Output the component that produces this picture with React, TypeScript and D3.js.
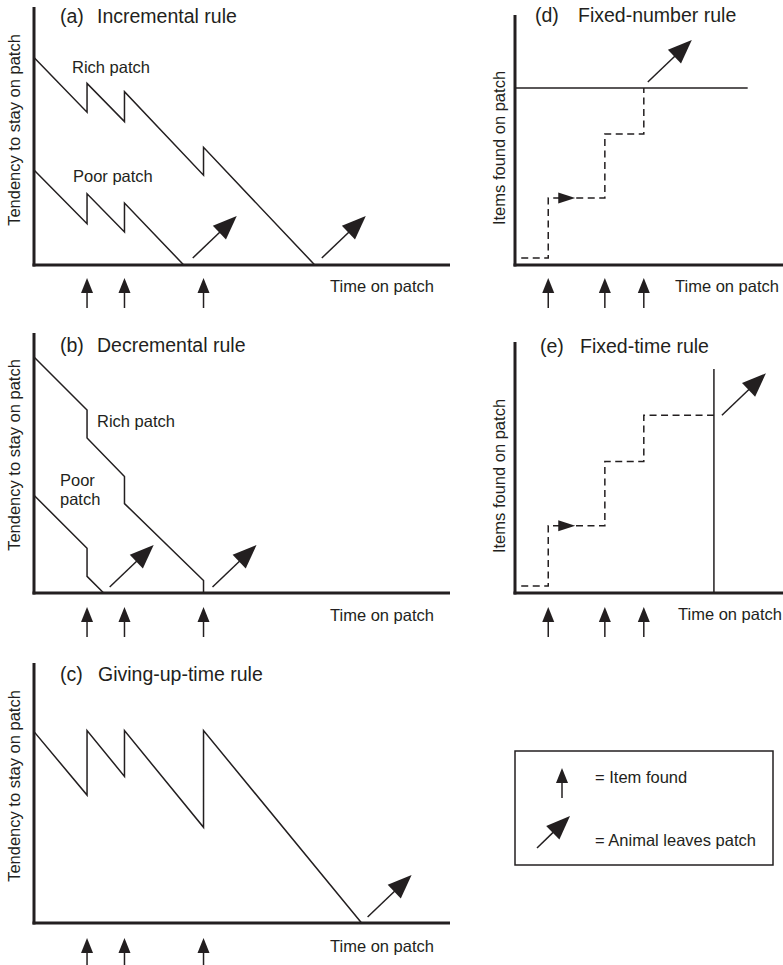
import * as d3 from "d3"

// ---- data ----
// panels a–c: time on patch (x) vs tendency to stay on patch (y)
const itemTimesABC = [5.1, 8.7, 16.3]
const richIncremental: [number, number][] = [[0, 20.1], [5.1, 14.8], [5.1, 17.6], [8.7, 13.9], [8.7, 16.8], [16.3, 8.7], [16.3, 11.4], [27.0, 0]]
const poorIncremental: [number, number][] = [[0, 9.2], [5.1, 4.0], [5.1, 6.9], [8.7, 3.2], [8.7, 6.0], [14.4, 0]]
const richDecremental: [number, number][] = [[0, 22.7], [5.1, 17.6], [5.1, 14.9], [8.7, 11.2], [8.7, 8.6], [16.3, 1.2], [16.3, 0]]
const poorDecremental: [number, number][] = [[0, 9.4], [5.1, 4.3], [5.1, 1.6], [6.7, 0]]
const givingUpTime: [number, number][] = [[0, 18.4], [5.1, 12.3], [5.1, 18.5], [8.7, 14.1], [8.7, 18.5], [16.3, 9.2], [16.3, 18.5], [31.5, 0]]

// panels d–e: time on patch (x) vs items found (y)
const itemTimesDE = [3.2, 8.65, 12.4]
const stepLevels = [0.7, 6.7, 13.1, 17.7]
const stepStart = 0.6
const stepArrowAt = 5.8
const fixedNumber = 17.7
const fixedNumberEnd = 22.4
const fixedTime = 19.15
const fixedTimeTop = 22.3

const ink = "#231f20"
const font = "'Liberation Sans', Arial, Helvetica, sans-serif"

const xLeft = d3.scaleLinear().domain([0, 40]).range([34, 450])
const xRight = d3.scaleLinear().domain([0, 25.8]).range([515, 783])
const yA = d3.scaleLinear().domain([0, 25]).range([265, 7])
const yB = d3.scaleLinear().domain([0, 25]).range([593, 333])
const yC = d3.scaleLinear().domain([0, 25]).range([923, 663])
const yD = d3.scaleLinear().domain([0, 25]).range([265, 15])
const yE = d3.scaleLinear().domain([0, 25]).range([593, 342])

function Axes({ x, y }: any) {
    const x0 = x.range()[0], x1 = x.range()[1]
    const y0 = y.range()[0], y1 = y.range()[1]
    return (
        <g stroke={ink} strokeWidth={3}>
            <line x1={x0} y1={y1} x2={x0} y2={y0 + 1.5} />
            <line x1={x0 - 1.5} y1={y0} x2={x1} y2={y0} />
        </g>
    )
}

function ItemArrow({ x, y }: { x: number, y: number }) {
    // y = tip position
    return (
        <g>
            <line x1={x} y1={y + 12} x2={x} y2={y + 30} stroke={ink} strokeWidth={1.5} />
            <path d={`M${x},${y}L${x + 6},${y + 15}L${x - 6},${y + 15}Z`} fill={ink} />
        </g>
    )
}

function LeaveArrow({ x, y, dx = 44, dy = -42 }: { x: number, y: number, dx?: number, dy?: number }) {
    const len = Math.hypot(dx, dy)
    const ux = dx / len, uy = dy / len
    const tx = x + dx, ty = y + dy
    const bx = tx - ux * 24, by = ty - uy * 24
    const nx = -uy * 9.5, ny = ux * 9.5
    return (
        <g>
            <line x1={x} y1={y} x2={bx + ux * 3} y2={by + uy * 3} stroke={ink} strokeWidth={1.5} />
            <path d={`M${tx},${ty}L${bx + nx},${by + ny}L${bx - nx},${by - ny}Z`} fill={ink} />
        </g>
    )
}

function StepArrow({ x, y }: { x: number, y: number }) {
    return <path d={`M${x},${y}L${x - 17},${y - 5.5}L${x - 17},${y + 5.5}Z`} fill={ink} />
}

function Title({ tag, text, x, tx, y }: any) {
    return (
        <g fontSize={19.5} fill={ink}>
            <text x={x} y={y}>{tag}</text>
            <text x={tx} y={y}>{text}</text>
        </g>
    )
}

function YLabel({ text, x, y }: any) {
    return (
        <text transform={`translate(${x},${y}) rotate(-90)`} textAnchor="middle" fontSize={16.5} fill={ink}>
            {text}
        </text>
    )
}

function stepPoints(times: number[], levels: number[], start: number, end?: number): [number, number][] {
    const pts: [number, number][] = [[start, levels[0]]]
    times.forEach((t, i) => {
        pts.push([t, levels[i]])
        pts.push([t, levels[i + 1]])
    })
    if (end !== undefined) pts.push([end, levels[levels.length - 1]])
    return pts
}

export default function App() {
    const lineOf = (y: any) => d3.line<[number, number]>().x(d => xLeft(d[0])).y(d => y(d[1]))
    const lineRight = (y: any) => d3.line<[number, number]>().x(d => xRight(d[0])).y(d => y(d[1]))
    const lastX = (pts: [number, number][]) => xLeft(pts[pts.length - 1][0])

    const stepD = stepPoints(itemTimesDE, stepLevels, stepStart)
    const stepE = stepPoints(itemTimesDE, stepLevels, stepStart, fixedTime)

    const curve = { fill: "none", stroke: ink, strokeWidth: 1.5, strokeLinejoin: "miter" as const }
    const dashed = { fill: "none", stroke: ink, strokeWidth: 1.5, strokeDasharray: "7,4.5" }

    return (
        <div style={{ position: "absolute", left: 0, top: 0 }}>
            <svg width={783} height={965} viewBox="0 0 783 965" style={{ display: "block", fontFamily: font }}>
                <rect width={783} height={965} fill="#fff" />

                {/* (a) Incremental rule */}
                <Axes x={xLeft} y={yA} />
                <Title tag="(a)" text="Incremental rule" x={60} tx={97} y={22.7} />
                <YLabel text="Tendency to stay on patch" x={20} y={130} />
                <path d={lineOf(yA)(richIncremental)!} {...curve} />
                <path d={lineOf(yA)(poorIncremental)!} {...curve} />
                <text x={72} y={72.7} fontSize={16.5} fill={ink}>Rich patch</text>
                <text x={73} y={181.5} fontSize={16.5} fill={ink}>Poor patch</text>
                <LeaveArrow x={lastX(poorIncremental) + 9} y={yA(0) - 7} />
                <LeaveArrow x={lastX(richIncremental) + 7} y={yA(0) - 7} />
                {itemTimesABC.map((t, i) => <ItemArrow key={i} x={xLeft(t)} y={yA(0) + 13} />)}
                <text x={330} y={yA(0) + 27} fontSize={16.5} fill={ink}>Time on patch</text>

                {/* (b) Decremental rule */}
                <Axes x={xLeft} y={yB} />
                <Title tag="(b)" text="Decremental rule" x={60} tx={97} y={351.7} />
                <YLabel text="Tendency to stay on patch" x={20} y={455} />
                <path d={lineOf(yB)(richDecremental)!} {...curve} />
                <path d={lineOf(yB)(poorDecremental)!} {...curve} />
                <text x={97} y={427} fontSize={16.5} fill={ink}>Rich patch</text>
                <text x={60} y={485.5} fontSize={16.5} fill={ink}>Poor</text>
                <text x={60} y={505} fontSize={16.5} fill={ink}>patch</text>
                <LeaveArrow x={lastX(poorDecremental) + 6} y={yB(0) - 6} />
                <LeaveArrow x={lastX(richDecremental) + 9} y={yB(0) - 6} />
                {itemTimesABC.map((t, i) => <ItemArrow key={i} x={xLeft(t)} y={yB(0) + 14} />)}
                <text x={330} y={yB(0) + 28} fontSize={16.5} fill={ink}>Time on patch</text>

                {/* (c) Giving-up-time rule */}
                <Axes x={xLeft} y={yC} />
                <Title tag="(c)" text="Giving-up-time rule" x={60} tx={98} y={681} />
                <YLabel text="Tendency to stay on patch" x={20} y={786} />
                <path d={lineOf(yC)(givingUpTime)!} {...curve} />
                <LeaveArrow x={lastX(givingUpTime) + 6} y={yC(0) - 6} />
                {itemTimesABC.map((t, i) => <ItemArrow key={i} x={xLeft(t)} y={yC(0) + 15} />)}
                <text x={330} y={yC(0) + 29} fontSize={16.5} fill={ink}>Time on patch</text>

                {/* (d) Fixed-number rule */}
                <Axes x={xRight} y={yD} />
                <Title tag="(d)" text="Fixed-number rule" x={535} tx={578} y={21.7} />
                <YLabel text="Items found on patch" x={505} y={148} />
                <line x1={xRight(0)} x2={xRight(fixedNumberEnd)} y1={yD(fixedNumber)} y2={yD(fixedNumber)} stroke={ink} strokeWidth={1.5} />
                <path d={lineRight(yD)(stepD)!} {...dashed} />
                <StepArrow x={xRight(stepArrowAt)} y={yD(stepLevels[1])} />
                <LeaveArrow x={xRight(itemTimesDE[2]) + 4} y={yD(fixedNumber) - 6} />
                {itemTimesDE.map((t, i) => <ItemArrow key={i} x={xRight(t)} y={yD(0) + 13} />)}
                <text x={675} y={yD(0) + 27} fontSize={16.5} fill={ink}>Time on patch</text>

                {/* (e) Fixed-time rule */}
                <Axes x={xRight} y={yE} />
                <Title tag="(e)" text="Fixed-time rule" x={540} tx={580} y={352.5} />
                <YLabel text="Items found on patch" x={505} y={476} />
                <line x1={xRight(fixedTime)} x2={xRight(fixedTime)} y1={yE(0)} y2={yE(fixedTimeTop)} stroke={ink} strokeWidth={1.5} />
                <path d={lineRight(yE)(stepE)!} {...dashed} />
                <StepArrow x={xRight(stepArrowAt)} y={yE(stepLevels[1])} />
                <LeaveArrow x={xRight(fixedTime) + 8} y={yE(stepLevels[3])} />
                {itemTimesDE.map((t, i) => <ItemArrow key={i} x={xRight(t)} y={yE(0) + 14} />)}
                <text x={678} y={yE(0) + 27} fontSize={16.5} fill={ink}>Time on patch</text>

                {/* legend */}
                <rect x={515} y={751} width={258} height={114} fill="none" stroke={ink} strokeWidth={1.5} />
                <ItemArrow x={562} y={768} />
                <text x={595} y={783} fontSize={16.5} fill={ink}>= Item found</text>
                <LeaveArrow x={537} y={848} dx={33} dy={-32} />
                <text x={595} y={846} fontSize={16.5} fill={ink}>= Animal leaves patch</text>
            </svg>
        </div>
    )
}
